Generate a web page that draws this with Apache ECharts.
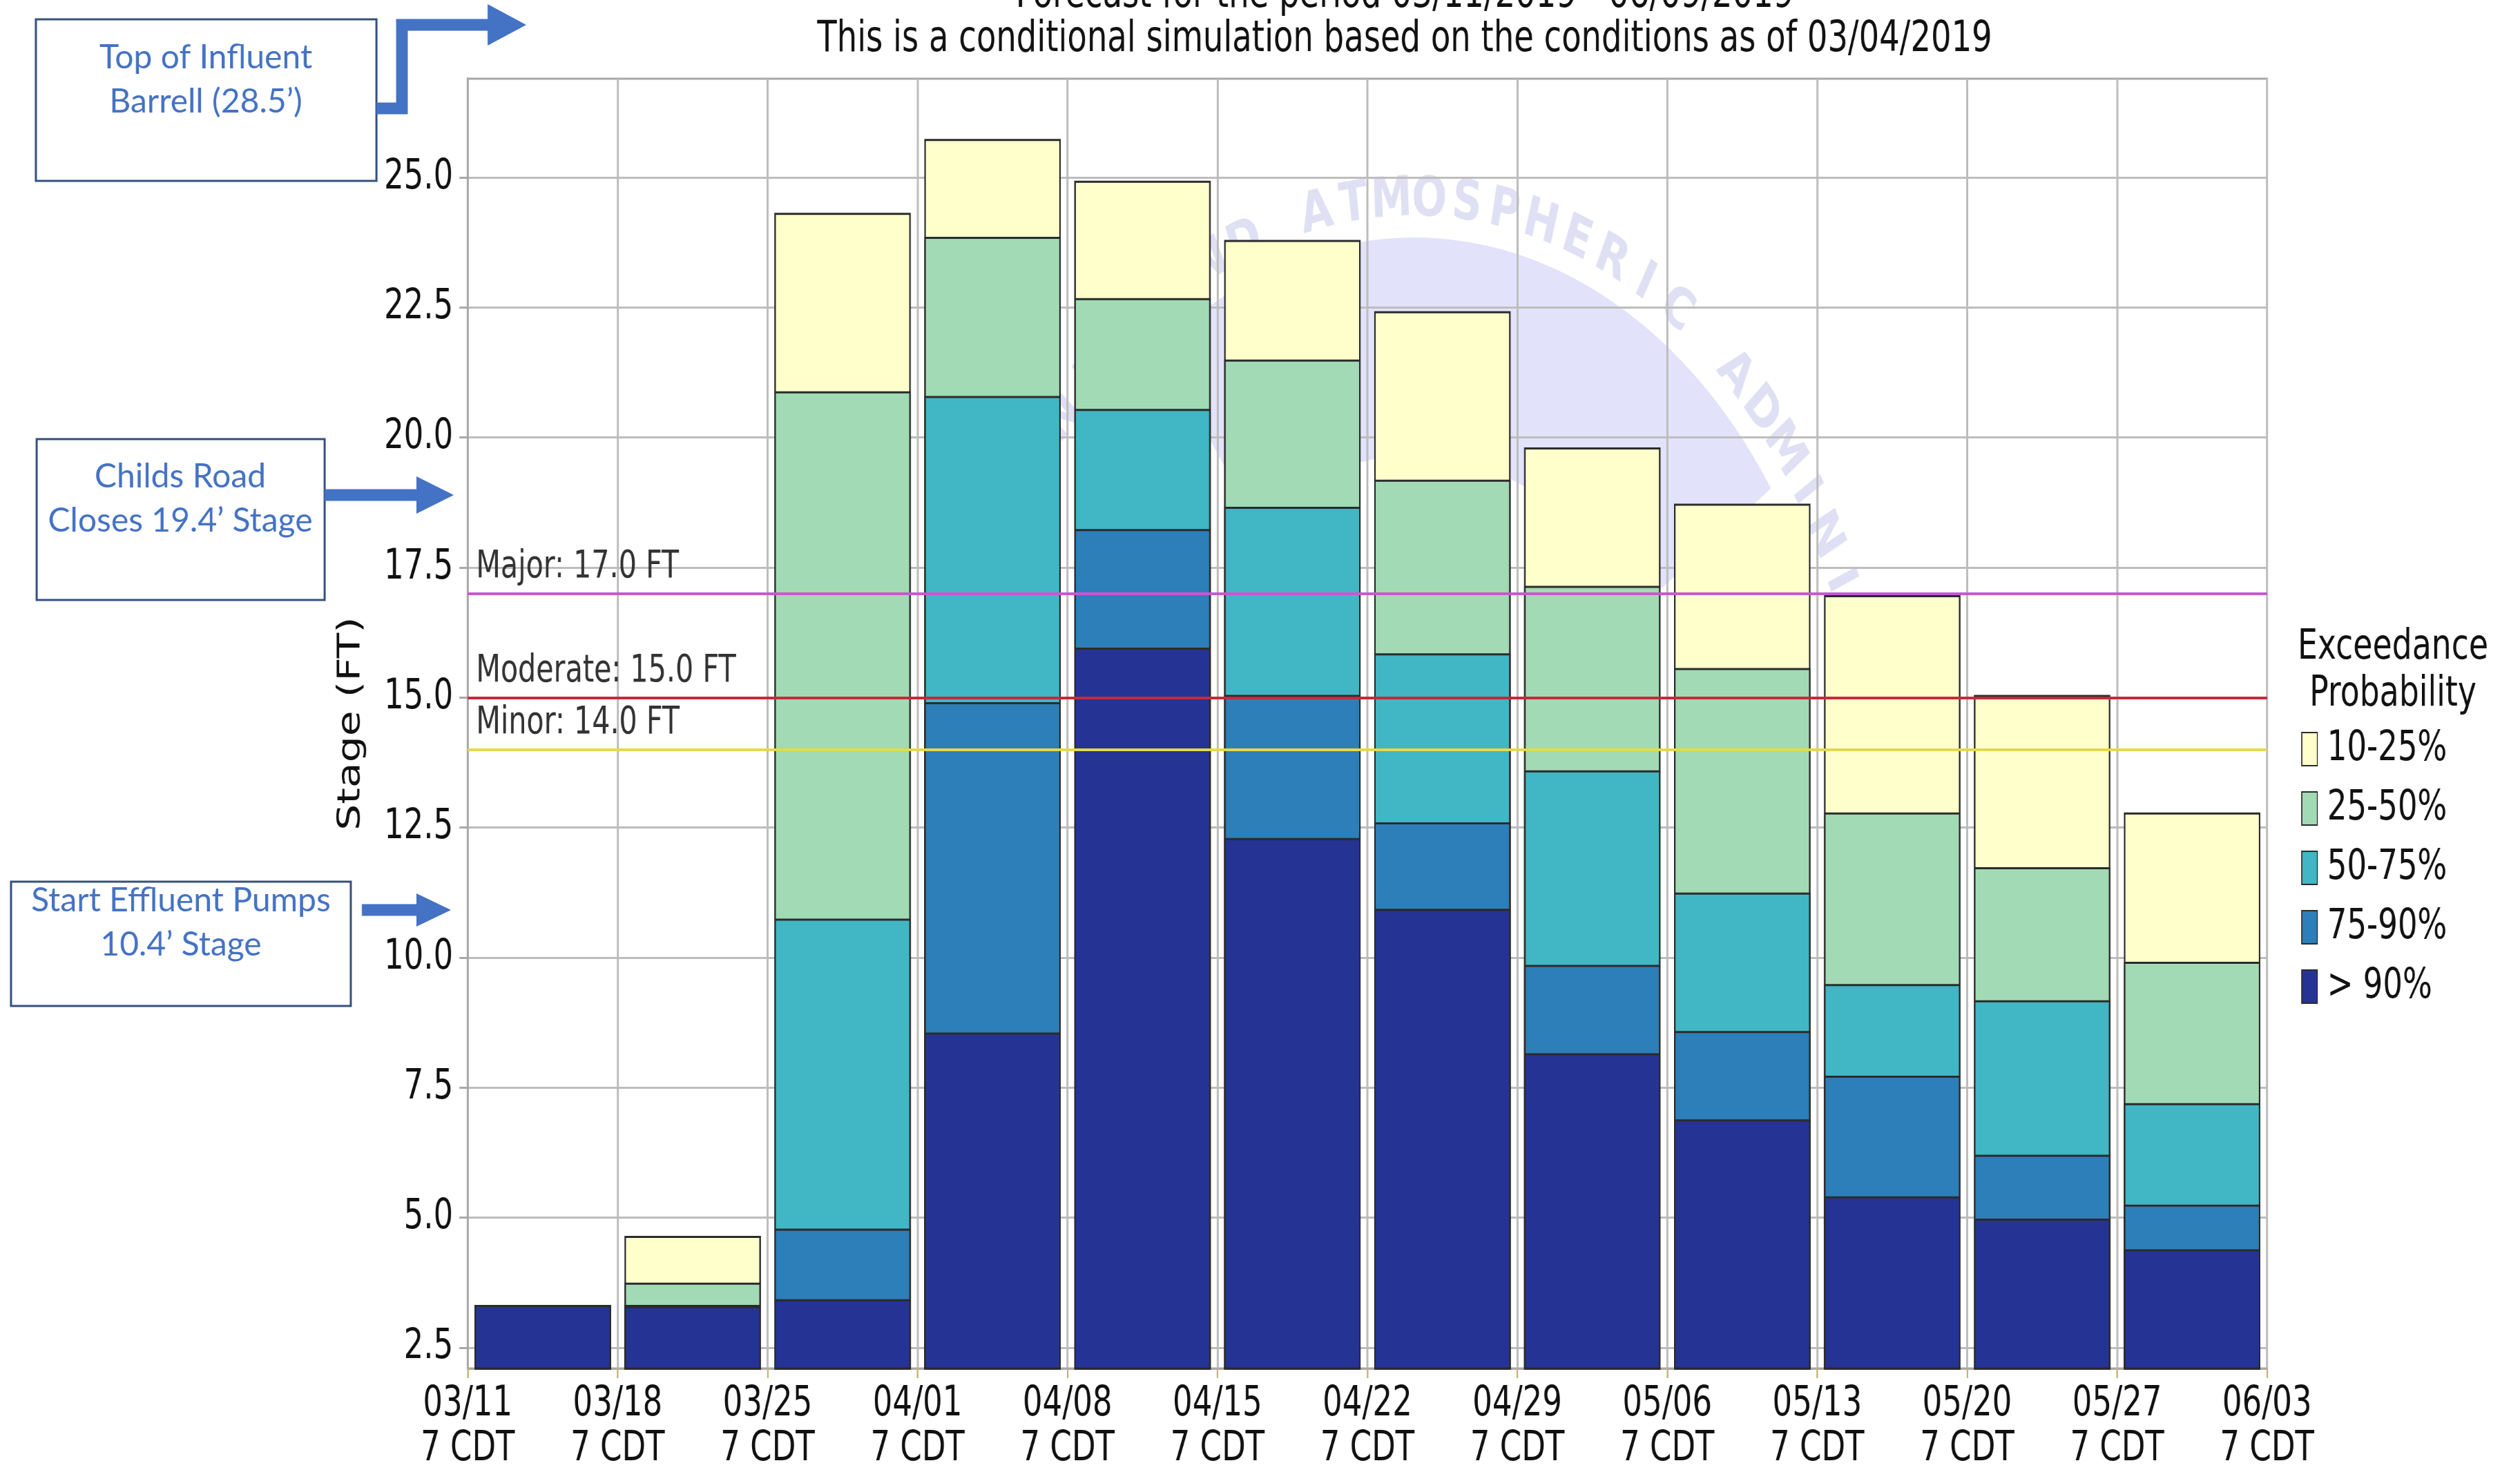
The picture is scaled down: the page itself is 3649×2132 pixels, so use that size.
<!DOCTYPE html>
<html>
<head>
<meta charset="utf-8">
<title>Exceedance Probability Forecast</title>
<script src="https://cdn.jsdelivr.net/npm/echarts@6/dist/echarts.min.js"></script>
<style>
  html, body { margin: 0; padding: 0; background: #fff; overflow: hidden; }
  /* the source plot was squeezed sideways, so draw it wide and squeeze it the same way */
  #chart { width: 4866px; height: 2132px; transform: scaleX(0.75); transform-origin: 0 0; }
</style>
</head>
<body>
<div id="chart"></div>
<script>
var squeeze = 0.75;

// one bar per week, labelled at its edges
var weeks = ['03/11', '03/18', '03/25', '04/01', '04/08', '04/15', '04/22', '04/29', '05/06', '05/13', '05/20', '05/27'];
var dateLabels = ['03/11', '03/18', '03/25', '04/01', '04/08', '04/15', '04/22', '04/29', '05/06', '05/13', '05/20', '05/27', '06/03'];
var stageTicks = [2.5, 5, 7.5, 10, 12.5, 15, 17.5, 20, 22.5, 25];

// stage (ft) reached at each exceedance level, per week
var stage10to25 = [3.32, 4.65, 24.32, 25.74, 24.94, 23.80, 22.43, 19.81, 18.73, 16.97, 15.05, 12.79];
var stage25to50 = [3.32, 3.75, 20.89, 23.86, 22.68, 21.50, 19.19, 17.15, 15.57, 12.79, 11.74, 9.92];
var stage50to75 = [3.32, 3.32, 10.75, 20.80, 20.55, 18.67, 15.85, 13.60, 11.25, 9.49, 9.18, 7.20];
var stage75to90 = [3.32, 3.31, 4.79, 14.91, 18.24, 15.05, 12.60, 9.86, 8.59, 7.73, 6.21, 5.25];
var stageOver90 = [3.32, 3.30, 3.43, 8.56, 15.96, 12.30, 10.94, 8.16, 6.89, 5.41, 4.98, 4.39];

var probNames = ['10-25%', '25-50%', '50-75%', '75-90%', '> 90%'];
var probColors = ['#ffffcc', '#a1dab4', '#41b6c4', '#2c7fb8', '#253494'];

var floodNames = ['Major', 'Moderate', 'Minor'];
var floodLevels = [17.0, 15.0, 14.0];
var floodColors = ['#cc55d4', '#c42a3c', '#e6d84c'];

var levels = [stage10to25, stage25to50, stage50to75, stage75to90, stageOver90];

// tallest level first, the others drawn over it
var barSeries = probNames.map(function (name, i) {
  return {
    name: name,
    type: 'bar',
    data: levels[i],
    barGap: '-100%',
    barCategoryGap: '9%',
    z: 3,
    itemStyle: { color: probColors[i], borderColor: '#2b2b2b', borderWidth: 3 }
  };
});

// flood stage lines sit on top of the bars
var floodSeries = {
  name: 'flood',
  type: 'line',
  data: [],
  z: 6,
  markLine: {
    silent: true,
    symbol: ['none', 'none'],
    lineStyle: { type: 'solid', width: 4 },
    label: {
      position: 'insideStartTop',
      distance: [16, 10],
      fontSize: 55,
      color: '#333',
      fontFamily: 'DejaVu Sans'
    },
    data: floodLevels.map(function (v, i) {
      return {
        yAxis: v,
        lineStyle: { color: floodColors[i] },
        label: { formatter: floodNames[i] + ': ' + v.toFixed(1) + ' FT' }
      };
    })
  }
};

// faint NOAA seal behind the plot
var sealText = 'NATIONAL OCEANIC AND ATMOSPHERIC ADMINISTRATION';
var sealX = 2730, sealY = 1179, sealR = 888;
var sealLetters = [];
for (var k = 0; k < sealText.length; k++) {
  if (sealText[k] === ' ') continue;
  var a = (-12.2 + (k - 21) * 4.7) * Math.PI / 180;
  sealLetters.push({
    type: 'text',
    z: -10,
    x: sealX + sealR * Math.sin(a),
    y: sealY - sealR * Math.cos(a),
    rotation: -a,
    style: {
      text: sealText[k],
      fontSize: 80,
      fontWeight: 'bold',
      fontFamily: 'DejaVu Sans',
      fill: '#e0e0f4',
      align: 'center',
      verticalAlign: 'middle'
    }
  });
}

// note boxes added over the chart (kept unsqueezed)
var noteFont = { fontSize: 48, fontFamily: 'Lato', fill: '#4472c4', align: 'center', verticalAlign: 'middle', lineHeight: 64 };
var boxStyle = { fill: '#fff', stroke: '#35507f', lineWidth: 3 };
var arrowLine = { stroke: '#4472c4', lineWidth: 17, fill: null };
var arrowHead = { fill: '#4472c4' };

function note(x, y, text) {
  return { type: 'text', x: x, y: y, style: Object.assign({ text: text }, noteFont) };
}

var notes = {
  type: 'group',
  scaleX: 1 / squeeze,
  z: 20,
  children: [
    { type: 'rect', shape: { x: 52, y: 28, width: 493, height: 234 }, style: boxStyle },
    note(298, 116, 'Top of Influent\nBarrell (28.5’)'),
    { type: 'polyline', shape: { points: [[545, 157], [582, 157], [582, 36], [712, 36]] }, style: arrowLine },
    { type: 'polygon', shape: { points: [[706, 6], [762, 36], [706, 66]] }, style: arrowHead },

    { type: 'rect', shape: { x: 53, y: 636, width: 417, height: 233 }, style: boxStyle },
    note(261, 723, 'Childs Road\nCloses 19.4’ Stage'),
    { type: 'polyline', shape: { points: [[470, 717], [610, 717]] }, style: arrowLine },
    { type: 'polygon', shape: { points: [[603, 690], [657, 717], [603, 744]] }, style: arrowHead },

    { type: 'rect', shape: { x: 16, y: 1277, width: 492, height: 180 }, style: boxStyle },
    note(262, 1337, 'Start Effluent Pumps\n10.4’ Stage'),
    { type: 'polyline', shape: { points: [[524, 1318], [608, 1318]] }, style: arrowLine },
    { type: 'polygon', shape: { points: [[603, 1294], [653, 1318], [603, 1342]] }, style: arrowHead }
  ]
};

var chart = echarts.init(document.getElementById('chart'));

var option = {
  animation: false,
  backgroundColor: '#fff',
  textStyle: { fontFamily: 'DejaVu Sans' },
  grid: {
    left: 903,
    right: 489,
    top: 114,
    bottom: 149,
    show: true,
    borderColor: '#a8a8a8',
    borderWidth: 3
  },
  legend: {
    data: probNames,
    orient: 'vertical',
    left: 4443,
    top: 1055,
    padding: 0,
    itemWidth: 30,
    itemHeight: 48,
    itemGap: 26,
    icon: 'rect',
    textStyle: { fontSize: 60, color: '#111', padding: [0, 0, 0, 14] }
  },
  xAxis: [
    {
      type: 'category',
      data: weeks,
      boundaryGap: true,
      axisLine: { show: false },
      axisTick: { show: false },
      axisLabel: { show: false },
      splitLine: { show: true, lineStyle: { color: '#bdbdbd', width: 4 } }
    },
    {
      type: 'category',
      data: dateLabels,
      boundaryGap: false,
      position: 'bottom',
      axisLine: { lineStyle: { color: '#a8a8a8', width: 3 } },
      axisTick: { show: true, length: 14, lineStyle: { color: '#c4b46c', width: 3 } },
      axisLabel: {
        interval: 0,
        fontSize: 60,
        lineHeight: 65,
        margin: 20,
        color: '#111',
        formatter: function (v) { return v + '\n7 CDT'; }
      },
      splitLine: { show: false }
    }
  ],
  yAxis: {
    type: 'value',
    min: 2.1,
    max: 26.9,
    name: 'Stage (FT)',
    nameLocation: 'middle',
    nameGap: 195,
    nameTextStyle: { fontSize: 60, color: '#111' },
    axisLine: { show: true, lineStyle: { color: '#a8a8a8', width: 4 } },
    axisTick: { show: true, length: 16, customValues: stageTicks, lineStyle: { color: '#a8a8a8', width: 3 } },
    axisLabel: {
      customValues: stageTicks,
      fontSize: 60,
      color: '#111',
      margin: 28,
      formatter: function (v) { return v.toFixed(1); }
    },
    splitLine: { show: true, lineStyle: { color: '#bdbdbd', width: 3 } }
  },
  graphic: [
    {
      type: 'sector',
      z: -10,
      shape: { cx: sealX, cy: sealY, r0: 520, r: 835, startAngle: 1.3 * Math.PI, endAngle: 2 * Math.PI - 0.6 },
      style: { fill: '#e2e2fa' }
    }
  ].concat(sealLetters).concat([
    {
      type: 'text', x: 2712, y: -6, z: 10,
      style: { text: 'Forecast for the period 03/11/2019 - 06/09/2019', fontSize: 62, fontFamily: 'DejaVu Sans', fill: '#111', align: 'center', verticalAlign: 'middle' }
    },
    {
      type: 'text', x: 2712, y: 58, z: 10,
      style: { text: 'This is a conditional simulation based on the conditions as of 03/04/2019', fontSize: 62, fontFamily: 'DejaVu Sans', fill: '#111', align: 'center', verticalAlign: 'middle' }
    },
    {
      type: 'text', x: 4620, y: 972, z: 10,
      style: { text: 'Exceedance\nProbability', fontSize: 61, lineHeight: 68, fontFamily: 'DejaVu Sans', fill: '#111', align: 'center', verticalAlign: 'middle' }
    },
    notes
  ]),
  series: barSeries.concat([floodSeries])
};

chart.setOption(option);
</script>
</body>
</html>
